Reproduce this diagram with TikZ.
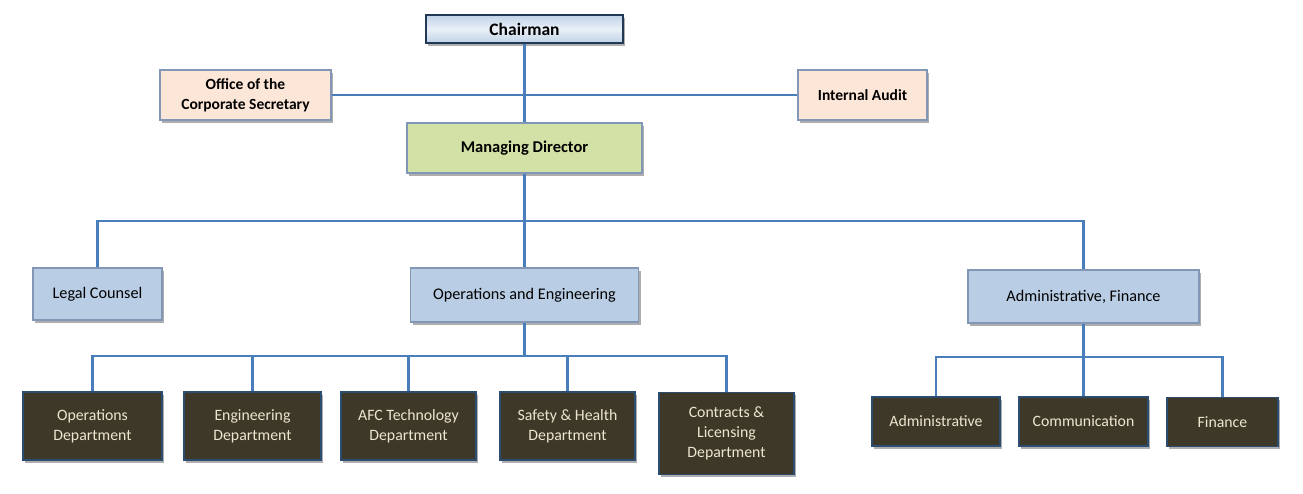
\documentclass[tikz,border=0pt]{standalone}
\usepackage{fontspec}
\setmainfont{Carlito}
\usetikzlibrary{shadows}
\definecolor{conncol}{HTML}{4A7EBB}
\definecolor{bordcol}{HTML}{8296B6}
\definecolor{peach}{HTML}{FCE6D8}
\definecolor{lblue}{HTML}{B9CDE5}
\definecolor{mgreen}{HTML}{D2E2A6}
\definecolor{darkbox}{HTML}{3D3828}
\definecolor{cream}{HTML}{EDE6CF}
\tikzset{
  x=1pt, y=-1pt,
  conn/.style={draw=conncol, line width=2.3pt},
  basebox/.style={rectangle, align=center, inner sep=2pt, font=\fontsize{16.2}{19}\selectfont,
    drop shadow={shadow xshift=2pt, shadow yshift=-2.5pt, opacity=0.45, fill=black!70}},
  chairbox/.style={basebox, draw=black!55!conncol, line width=1.5pt, top color=lblue!90, bottom color=lblue!90, middle color=white!70!lblue, font=\bfseries\fontsize{17.5}{20}\selectfont},
  peachbox/.style={basebox, draw=bordcol, line width=1.2pt, fill=peach, font=\bfseries\fontsize{15.5}{20}\selectfont},
  greenbox/.style={basebox, draw=bordcol, line width=1.2pt, fill=mgreen, font=\bfseries\fontsize{16.5}{19}\selectfont},
  bluebox/.style={basebox, draw=bordcol, line width=1.2pt, fill=lblue},
  deptbox/.style={basebox, draw=conncol!60!black, line width=1.2pt, fill=darkbox, text=cream, font=\fontsize{15.8}{20}\selectfont},
}
\begin{document}
\begin{tikzpicture}
\useasboundingbox (0,0) rectangle (1303,493);
% top level
\node[chairbox, minimum width=197pt, minimum height=28pt] (chair) at (524.5,29) {Chairman};
\node[peachbox, minimum width=171pt, minimum height=50pt] (office) at (245.5,95) {Office of the\\Corporate Secretary};
\node[peachbox, minimum width=129pt, minimum height=50pt] (audit) at (862.5,95) {Internal Audit};
\node[greenbox, minimum width=235pt, minimum height=50pt] (md) at (524.5,148) {Managing Director};
% second level
\node[bluebox, minimum width=129pt, minimum height=52pt] (legal) at (97.5,294) {Legal Counsel};
\node[bluebox, minimum width=228pt, minimum height=54pt] (oe) at (524.5,295) {Operations and Engineering};
\node[bluebox, minimum width=231pt, minimum height=53pt] (af) at (1083.5,296.5) {Administrative, Finance};
% departments
\node[deptbox, minimum width=139pt, minimum height=68pt] (ops) at (92.5,426) {Operations\\Department};
\node[deptbox, minimum width=137pt, minimum height=68pt] (eng) at (252.5,426) {Engineering\\Department};
\node[deptbox, minimum width=135pt, minimum height=68pt] (afc) at (408.5,426) {AFC Technology\\Department};
\node[deptbox, minimum width=135pt, minimum height=68pt] (safe) at (567.5,426) {Safety \& Health\\Department};
\node[deptbox, minimum width=135pt, minimum height=82pt, anchor=north] (contr) at (726.5,392) {Contracts \&\\Licensing\\Department};
\node[deptbox, minimum width=128pt, minimum height=49pt] (admin) at (936,421.5) {Administrative};
\node[deptbox, minimum width=129pt, minimum height=49pt] (comm) at (1083.5,421.5) {Communication};
\node[deptbox, minimum width=111pt, minimum height=49pt] (fin) at (1222.5,422) {Finance};
% bus coordinates
\coordinate (busA) at (524.5,221);
\coordinate (busB) at (524.5,356);
\coordinate (busC) at (1083.5,357);
% connectors
\draw[conn] (chair.south) -- (md.north);
\draw[conn] (office.east) -- (audit.west);
\draw[conn] (md.south) -- (oe.north);
\draw[conn] (legal.north) |- (busA) -| (af.north);
\draw[conn] (oe.south) -- (busB);
\draw[conn] (ops.north) |- (busB) -| (contr.north);
\draw[conn] (eng.north) -- (eng.north |- busB);
\draw[conn] (afc.north) -- (afc.north |- busB);
\draw[conn] (safe.north) -- (safe.north |- busB);
\draw[conn] (af.south) -- (comm.north);
\draw[conn] (admin.north) |- (busC) -| (fin.north);
\end{tikzpicture}
\end{document}
